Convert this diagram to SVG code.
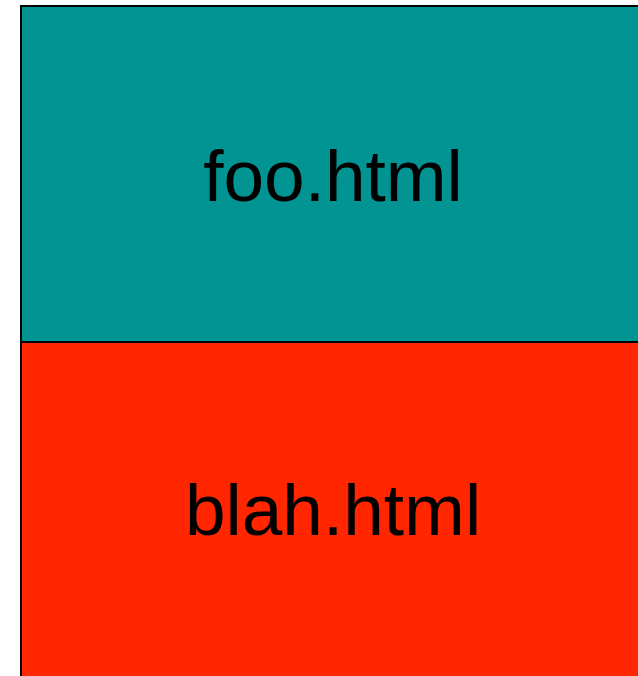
<svg xmlns="http://www.w3.org/2000/svg" width="638" height="676" viewBox="0 0 638 676">
<style>
.box{stroke:#000;stroke-width:2}
.lbl{font-family:"Liberation Sans",Arial,sans-serif;font-size:73px;fill:#000;text-anchor:middle}
</style>
<rect width="638" height="676" fill="#fff"/>
<g id="foo">
<rect class="box" x="21" y="6" width="626" height="336" fill="#029393"/>
<text class="lbl" x="333" y="201">foo.html</text>
</g>
<g id="blah">
<rect class="box" x="21" y="342" width="626" height="340" fill="#ff2600"/>
<text class="lbl" x="333" y="535">blah.html</text>
</g>
<g id="connectors"/>
</svg>
